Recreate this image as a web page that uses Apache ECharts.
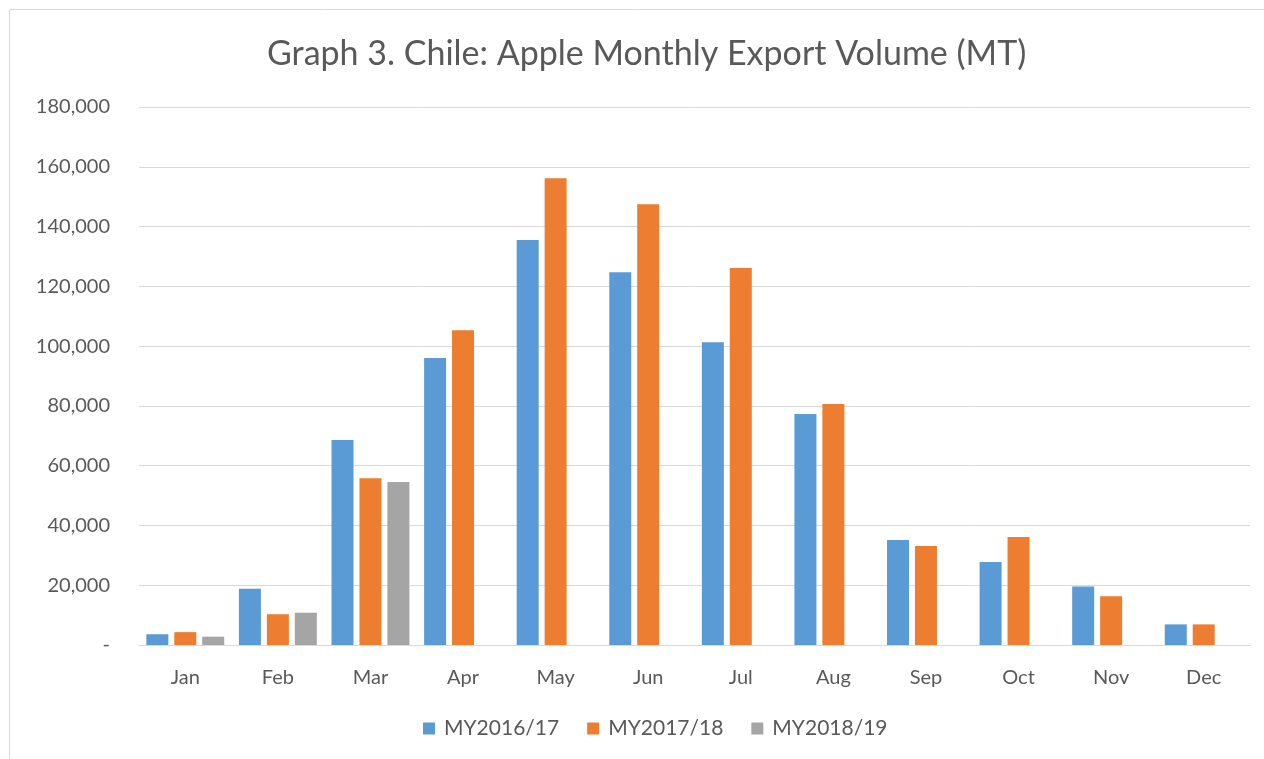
<!DOCTYPE html>
<html lang="en">
<head>
    <meta charset="UTF-8">
    <title>Chile Apple Monthly Export Volume</title>
    <script src="https://cdn.jsdelivr.net/npm/echarts@6/dist/echarts.min.js"></script>
    <style type="text/css">
        html, body { margin: 0; padding: 0; background: #fff; }
        #main { width: 1264px; height: 759px; }
    </style>
</head>
<body>
<div id="main"></div>
<script>
    // data (MT)
    var months = ['Jan', 'Feb', 'Mar', 'Apr', 'May', 'Jun', 'Jul', 'Aug', 'Sep', 'Oct', 'Nov', 'Dec'];
    var my2016 = [3600, 18800, 68600, 96000, 135500, 124700, 101300, 77300, 35100, 27800, 19600, 6900];
    var my2017 = [4300, 10300, 55800, 105300, 156200, 147500, 126100, 80600, 33100, 36100, 16300, 6900];
    var my2018 = [2800, 10800, 54500, null, null, null, null, null, null, null, null, null];

    var txt = '#595959';
    var font = 'Lato, "Open Sans", sans-serif';

    var myChart = echarts.init(document.getElementById('main'));
    var option = {
        backgroundColor: '#fff',
        textStyle: {fontFamily: font},
        graphic: [{
            type: 'rect',
            shape: {x: 9.5, y: 9.5, width: 1270, height: 760},
            style: {fill: 'none', stroke: '#d9d9d9', lineWidth: 1}
        }],
        title: {
            text: 'Graph 3. Chile: Apple Monthly Export Volume (MT)',
            left: 262,
            top: 32,
            textStyle: {color: txt, fontSize: 34, fontWeight: 'normal', fontFamily: font}
        },
        legend: {
            bottom: 15,
            left: 418,
            itemWidth: 12,
            itemHeight: 12,
            itemGap: 28,
            icon: 'rect',
            textStyle: {color: txt, fontSize: 21, fontFamily: font, padding: [0, 0, 0, 4]}
        },
        grid: {left: 139, right: 14, top: 107, bottom: 114},
        xAxis: {
            type: 'category',
            data: months,
            axisLine: {lineStyle: {color: '#d9d9d9', width: 1}},
            axisTick: {show: false},
            axisLabel: {color: txt, fontSize: 20, margin: 23}
        },
        yAxis: {
            type: 'value',
            min: 0,
            max: 180000,
            interval: 20000,
            axisLine: {show: false},
            axisTick: {show: false},
            splitLine: {lineStyle: {color: '#d9d9d9', width: 1}},
            axisLabel: {
                color: txt, fontSize: 20, margin: 29,
                formatter: function (v) {
                    return v === 0 ? '-' : v.toLocaleString('en-US');
                }
            }
        },
        series: [
            {name: 'MY2016/17', type: 'bar', data: my2016, barWidth: 22, barGap: '27%',
                itemStyle: {color: '#5b9bd5'}},
            {name: 'MY2017/18', type: 'bar', data: my2017, barWidth: 22, barGap: '27%',
                itemStyle: {color: '#ed7d31'}},
            {name: 'MY2018/19', type: 'bar', data: my2018, barWidth: 22, barGap: '27%',
                itemStyle: {color: '#a5a5a5'}}
        ]
    };
    myChart.setOption(option);
</script>
</body>
</html>
